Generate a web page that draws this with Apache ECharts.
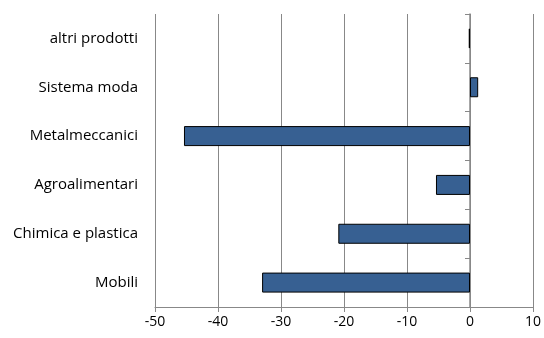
<!DOCTYPE html>
<html>
<head>
<meta charset="utf-8">
<script src="https://cdn.jsdelivr.net/npm/echarts@6/dist/echarts.min.js"></script>
<style>
  html, body { margin: 0; padding: 0; background: #fff; }
  #chart { width: 544px; height: 338px; }
</style>
</head>
<body>
<div id="chart"></div>
<script>
// categories from bottom to top
const categories = ['Mobili', 'Chimica e plastica', 'Agroalimentari', 'Metalmeccanici', 'Sistema moda', 'altri prodotti']
const values = [-33.0, -20.9, -5.4, -45.4, 1.3, -0.2]
const xTicks = [-50, -40, -30, -20, -10, 0, 10]

const chart = echarts.init(document.getElementById('chart'))

const option = {
  animation: false,
  grid: { left: 155, right: 9, top: 14, bottom: 31 },
  textStyle: { fontFamily: 'Open Sans' },
  xAxis: {
    type: 'value',
    min: xTicks[0],
    max: xTicks[xTicks.length - 1],
    interval: 10,
    axisLine: { show: true, onZero: false, lineStyle: { color: '#888', width: 1 } },
    axisTick: { show: true, length: 5, lineStyle: { color: '#888' } },
    axisLabel: { color: '#000', fontSize: 14, margin: 8 },
    splitLine: { show: true, lineStyle: { color: '#888', width: 1 } }
  },
  yAxis: [
    {
      // labels only, left of the plot
      type: 'category',
      data: categories,
      position: 'left',
      axisLine: { show: false, onZero: false },
      axisTick: { show: false },
      axisLabel: { color: '#000', fontSize: 15, margin: 17 }
    },
    {
      // axis line through zero with ticks
      type: 'category',
      data: categories,
      position: 'left',
      axisLine: { show: true, onZero: true, lineStyle: { color: '#888', width: 1.5 } },
      axisTick: { show: true, length: 5, lineStyle: { color: '#888' } },
      axisLabel: { show: false }
    }
  ],
  series: [
    {
      type: 'bar',
      yAxisIndex: 0,
      data: values,
      barWidth: 20,
      itemStyle: { color: '#376092', borderColor: '#000', borderWidth: 1 }
    }
  ]
}

chart.setOption(option)
</script>
</body>
</html>
